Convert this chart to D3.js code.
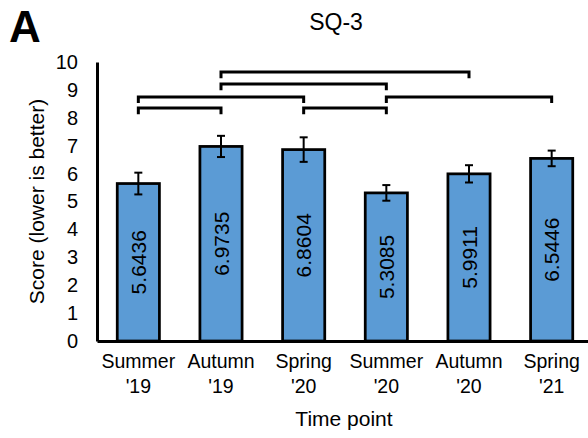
<!DOCTYPE html>
<html>
<head>
<meta charset="utf-8">
<script src="https://cdn.jsdelivr.net/npm/d3@7"></script>
<style>
  body { margin: 0; background: #fff; }
  svg { display: block; font-family: "Liberation Sans", Arial, sans-serif; }
</style>
</head>
<body>
<div id="chart"></div>
<script>
// data
const seasons = ["Summer", "Autumn", "Spring", "Summer", "Autumn", "Spring"];
const years = ["'19", "'19", "'20", "'20", "'20", "'21"];
const scores = [5.6436, 6.9735, 6.8604, 5.3085, 5.9911, 6.5446];
const errors = [0.39, 0.38, 0.44, 0.28, 0.31, 0.28];
const yTicks = [0, 1, 2, 3, 4, 5, 6, 7, 8, 9, 10];
// significance brackets: from bar, to bar, height (score units)
const bracketFrom = [1, 1, 0, 3, 0, 2];
const bracketTo = [4, 3, 2, 5, 1, 3];
const bracketLevel = [9.64, 9.21, 8.75, 8.75, 8.35, 8.35];

const width = 588;
const height = 438;
const marginLeft = 97;
const marginTop = 62;
const plotBottom = 341;

const labels = seasons.map((s, i) => s + " " + years[i]);
const data = labels.map((k, i) => ({ key: k, season: seasons[i], year: years[i], v: scores[i], e: errors[i] }));

const x = d3.scaleBand()
    .domain(labels)
    .range([marginLeft, 593])
    .paddingInner(0.49)
    .paddingOuter(0.245);

const y = d3.scaleLinear()
    .domain([0, 10])
    .range([plotBottom, marginTop]);

const svg = d3.create("svg")
    .attr("width", width)
    .attr("height", height);

// bars
svg.append("g")
  .selectAll("rect")
  .data(data)
  .join("rect")
    .attr("x", d => x(d.key))
    .attr("y", d => y(d.v))
    .attr("width", x.bandwidth())
    .attr("height", d => y(0) - y(d.v))
    .attr("fill", "#5b9bd5")
    .attr("stroke", "#000")
    .attr("stroke-width", 2.75);

// values inside bars
svg.append("g")
  .selectAll("text")
  .data(data)
  .join("text")
    .attr("transform", d => `translate(${x(d.key) + x.bandwidth() / 2},${(y(d.v) + y(0)) / 2}) rotate(-90)`)
    .attr("text-anchor", "middle")
    .attr("dy", "0.36em")
    .style("font-size", "21px")
    .attr("fill", "#000")
    .text(d => d3.format(".4f")(d.v));

// error bars
const err = svg.append("g")
    .attr("stroke", "#000")
    .attr("stroke-width", 2);
const cx = d => x(d.key) + x.bandwidth() / 2;
err.selectAll("line.v").data(data).join("line")
    .attr("class", "v")
    .attr("x1", cx).attr("x2", cx)
    .attr("y1", d => y(d.v + d.e)).attr("y2", d => y(d.v - d.e));
err.selectAll("line.t").data(data).join("line")
    .attr("class", "t")
    .attr("x1", d => cx(d) - 4).attr("x2", d => cx(d) + 4)
    .attr("y1", d => y(d.v + d.e)).attr("y2", d => y(d.v + d.e));
err.selectAll("line.b").data(data).join("line")
    .attr("class", "b")
    .attr("x1", d => cx(d) - 4).attr("x2", d => cx(d) + 4)
    .attr("y1", d => y(d.v - d.e)).attr("y2", d => y(d.v - d.e));

// y axis
const yAxis = svg.append("g")
    .attr("transform", `translate(${marginLeft},0)`)
    .call(d3.axisLeft(y).tickValues(yTicks).tickSize(0).tickSizeOuter(0).tickPadding(19));
yAxis.select(".domain").attr("stroke", "#000").attr("stroke-width", 3);
yAxis.selectAll("text")
    .style("font-size", "20px")
    .style("font-family", "'Liberation Sans', Arial, sans-serif")
    .attr("fill", "#000");

// x axis
const xAxis = svg.append("g")
    .attr("transform", `translate(0,${plotBottom})`)
    .call(d3.axisBottom(x).tickSize(0).tickSizeOuter(0).tickFormat(""));
xAxis.select(".domain").attr("stroke", "#000").attr("stroke-width", 3);
xAxis.selectAll(".tick text").remove();
xAxis.selectAll(".tick").each(function (k, i) {
  const t = d3.select(this).append("text")
      .attr("fill", "#000")
      .attr("text-anchor", "middle")
      .style("font-size", "19.5px")
      .style("font-family", "'Liberation Sans', Arial, sans-serif");
  t.append("tspan").attr("x", 0).attr("y", 27).text(seasons[i]);
  t.append("tspan").attr("x", 0).attr("y", 52).text(years[i]);
});

// significance brackets
const drop = 0.22;
const bx = i => x(labels[i]) + x.bandwidth() / 2;
svg.append("g")
  .selectAll("path")
  .data(bracketFrom.map((f, i) => ({ f, t: bracketTo[i], l: bracketLevel[i] })))
  .join("path")
    .attr("fill", "none")
    .attr("stroke", "#000")
    .attr("stroke-width", 3)
    .attr("stroke-linejoin", "miter")
    .attr("d", d => `M${bx(d.f)},${y(d.l - drop)}V${y(d.l)}H${bx(d.t)}V${y(d.l - drop)}`);

// titles
svg.append("text")
    .attr("x", 336)
    .attr("y", 30)
    .attr("text-anchor", "middle")
    .style("font-size", "23px")
    .text("SQ-3");

svg.append("text")
    .attr("x", 9)
    .attr("y", 42)
    .style("font-size", "44px")
    .style("font-weight", "bold")
    .text("A");

svg.append("text")
    .attr("transform", `translate(44,${(marginTop + plotBottom) / 2}) rotate(-90)`)
    .attr("text-anchor", "middle")
    .style("font-size", "21px")
    .text("Score (lower is better)");

svg.append("text")
    .attr("x", 344)
    .attr("y", 426)
    .attr("text-anchor", "middle")
    .style("font-size", "21px")
    .text("Time point");

document.getElementById("chart").append(svg.node());
</script>
</body>
</html>
